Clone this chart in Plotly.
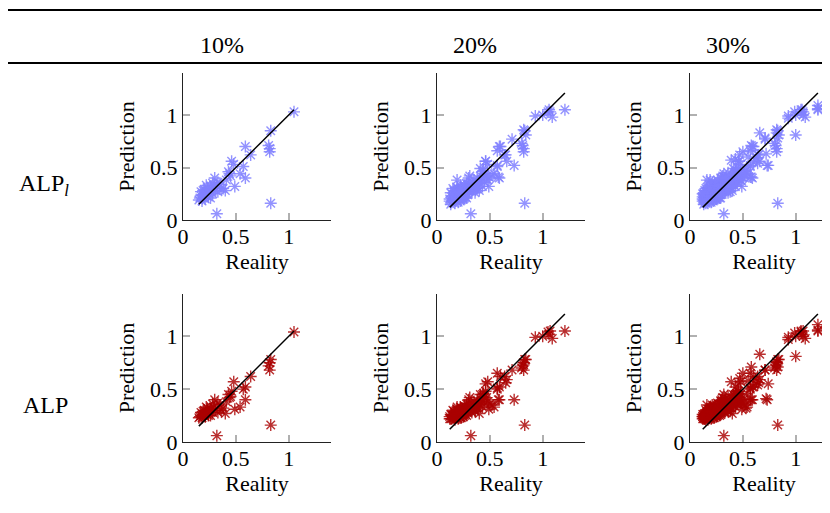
import plotly.graph_objects as go

# ---------------- data ----------------
column_labels = ["10%", "20%", "30%"]
row_labels = ["ALP<sub><i>l</i></sub>", "ALP"]
tick_vals = [0, 0.5, 1]
tick_text = ["0", "0.5", "1"]

# base points (10%)
reality_10 = [1.05, 0.83, 0.59, 0.81, 0.82, 0.82, 0.64, 0.83, 0.32, 0.57,
              0.59, 0.49, 0.48, 0.46, 0.43, 0.45, 0.41, 0.40, 0.54, 0.44,
              0.36, 0.33, 0.30, 0.29, 0.28, 0.27, 0.25, 0.24, 0.23, 0.22,
              0.21, 0.20, 0.19, 0.18, 0.17, 0.16, 0.15, 0.26, 0.31, 0.35,
              0.38, 0.22, 0.19, 0.24, 0.28, 0.33, 0.20, 0.26, 0.21, 0.17]
pred_alpl_10 = [1.03, 0.85, 0.70, 0.71, 0.68, 0.65, 0.62, 0.16, 0.06, 0.51,
                0.40, 0.32, 0.53, 0.56, 0.46, 0.42, 0.38, 0.28, 0.44, 0.44,
                0.30, 0.36, 0.40, 0.33, 0.25, 0.30, 0.28, 0.22, 0.31, 0.26,
                0.20, 0.29, 0.24, 0.18, 0.27, 0.21, 0.19, 0.21, 0.28, 0.34,
                0.30, 0.33, 0.28, 0.26, 0.35, 0.27, 0.22, 0.32, 0.24, 0.23]
pred_alp_10 = [1.04, 0.78, 0.52, 0.72, 0.68, 0.75, 0.62, 0.16, 0.06, 0.50,
               0.40, 0.31, 0.57, 0.48, 0.45, 0.43, 0.38, 0.27, 0.33, 0.42,
               0.30, 0.37, 0.40, 0.33, 0.28, 0.31, 0.29, 0.25, 0.32, 0.27,
               0.24, 0.30, 0.26, 0.23, 0.28, 0.24, 0.23, 0.25, 0.30, 0.35,
               0.32, 0.33, 0.29, 0.27, 0.36, 0.28, 0.25, 0.31, 0.26, 0.25]

# additional points appearing at 20%
reality_20_extra = [1.21, 1.07, 1.09, 1.06, 0.93, 1.00, 0.82, 0.84, 0.71, 0.80,
                    0.60, 0.57, 0.65, 0.66, 0.73, 0.57, 0.58, 0.52, 0.46, 0.41,
                    0.19, 0.12, 0.13, 0.14, 0.15, 0.13, 0.16, 0.17, 0.18, 0.20,
                    0.21, 0.22, 0.23, 0.24, 0.25, 0.26, 0.27, 0.28, 0.29, 0.30,
                    0.31, 0.32, 0.34, 0.35, 0.36, 0.37, 0.38, 0.39, 0.40, 0.42,
                    0.43, 0.44, 0.45, 0.47, 0.48, 0.50, 0.14, 0.16, 0.18, 0.19,
                    0.21, 0.23, 0.24, 0.26, 0.28, 0.12, 0.15, 0.17, 0.20, 0.22]
pred_alpl_20_extra = [1.05, 1.03, 0.98, 1.05, 0.99, 1.00, 0.86, 0.81, 0.77, 0.73,
                      0.70, 0.66, 0.62, 0.56, 0.52, 0.52, 0.41, 0.43, 0.56, 0.49,
                      0.38, 0.20, 0.26, 0.17, 0.23, 0.15, 0.28, 0.16, 0.21, 0.17,
                      0.27, 0.18, 0.24, 0.30, 0.20, 0.25, 0.22, 0.29, 0.24, 0.34,
                      0.42, 0.30, 0.29, 0.38, 0.26, 0.33, 0.40, 0.31, 0.35, 0.39,
                      0.32, 0.47, 0.36, 0.42, 0.38, 0.40, 0.22, 0.19, 0.25, 0.31,
                      0.22, 0.19, 0.27, 0.33, 0.21, 0.18, 0.30, 0.24, 0.26, 0.29]
pred_alp_20_extra = [1.05, 1.05, 0.98, 1.02, 0.99, 1.00, 0.73, 0.78, 0.68, 0.70,
                     0.62, 0.65, 0.56, 0.59, 0.40, 0.51, 0.40, 0.35, 0.55, 0.45,
                     0.33, 0.24, 0.26, 0.22, 0.25, 0.22, 0.29, 0.21, 0.24, 0.22,
                     0.29, 0.23, 0.27, 0.32, 0.24, 0.28, 0.26, 0.31, 0.28, 0.36,
                     0.42, 0.32, 0.31, 0.38, 0.29, 0.34, 0.39, 0.33, 0.36, 0.40,
                     0.33, 0.46, 0.37, 0.42, 0.38, 0.36, 0.25, 0.23, 0.27, 0.31,
                     0.25, 0.23, 0.28, 0.34, 0.25, 0.22, 0.30, 0.26, 0.27, 0.30]

# additional points appearing at 30%
reality_30_extra = [1.21, 1.21, 1.05, 1.07, 0.99, 0.93, 1.00, 0.66, 0.71, 0.82,
                    0.83, 0.72, 0.74, 0.58, 0.50, 0.39, 0.63, 0.64, 0.57, 0.53,
                    0.16, 0.55, 0.60, 0.47, 0.43, 0.45, 0.36, 0.32, 0.12, 0.13,
                    0.14, 0.15, 0.16, 0.17, 0.18, 0.19, 0.20, 0.21, 0.22, 0.23,
                    0.24, 0.25, 0.26, 0.27, 0.28, 0.29, 0.30, 0.31, 0.33, 0.34,
                    0.35, 0.37, 0.38, 0.40, 0.41, 0.42, 0.44, 0.46, 0.48, 0.49,
                    0.51, 0.54, 0.13, 0.14, 0.15, 0.16, 0.17, 0.18, 0.19, 0.20,
                    0.21, 0.22, 0.23, 0.24, 0.25, 0.26, 0.27, 0.28, 0.29, 0.30,
                    0.32, 0.33, 0.35, 0.36, 0.38, 0.40, 0.43, 0.46, 0.14, 0.12]
pred_alpl_30_extra = [1.09, 1.06, 1.05, 1.00, 1.03, 0.97, 0.81, 0.83, 0.78, 0.83,
                      0.78, 0.63, 0.52, 0.71, 0.65, 0.57, 0.59, 0.54, 0.41, 0.47,
                      0.38, 0.60, 0.55, 0.62, 0.58, 0.50, 0.45, 0.44, 0.22, 0.19,
                      0.28, 0.16, 0.24, 0.31, 0.19, 0.27, 0.33, 0.19, 0.25, 0.35,
                      0.20, 0.31, 0.23, 0.36, 0.27, 0.21, 0.29, 0.35, 0.31, 0.39,
                      0.28, 0.36, 0.27, 0.42, 0.33, 0.45, 0.36, 0.41, 0.46, 0.37,
                      0.43, 0.48, 0.24, 0.21, 0.27, 0.20, 0.26, 0.33, 0.22, 0.29,
                      0.36, 0.22, 0.28, 0.33, 0.25, 0.38, 0.30, 0.24, 0.40, 0.26,
                      0.34, 0.40, 0.32, 0.38, 0.33, 0.37, 0.40, 0.44, 0.18, 0.25]
pred_alp_30_extra = [1.11, 1.06, 1.05, 1.00, 1.03, 0.97, 0.81, 0.83, 0.68, 0.76,
                     0.71, 0.41, 0.55, 0.71, 0.65, 0.57, 0.57, 0.54, 0.40, 0.32,
                     0.35, 0.58, 0.52, 0.60, 0.52, 0.48, 0.44, 0.45, 0.24, 0.23,
                     0.27, 0.21, 0.25, 0.31, 0.23, 0.28, 0.32, 0.24, 0.27, 0.34,
                     0.25, 0.31, 0.27, 0.36, 0.29, 0.26, 0.30, 0.34, 0.32, 0.38,
                     0.30, 0.36, 0.29, 0.41, 0.34, 0.44, 0.36, 0.40, 0.45, 0.37,
                     0.41, 0.46, 0.25, 0.24, 0.27, 0.23, 0.27, 0.31, 0.25, 0.29,
                     0.35, 0.25, 0.29, 0.33, 0.27, 0.37, 0.31, 0.27, 0.39, 0.28,
                     0.34, 0.40, 0.33, 0.38, 0.34, 0.37, 0.40, 0.43, 0.22, 0.26]

# ---------------- assemble per panel ----------------
reality_cols = [reality_10,
                reality_10 + reality_20_extra,
                reality_10 + reality_20_extra + reality_30_extra]
pred_rows = [
    [pred_alpl_10,
     pred_alpl_10 + pred_alpl_20_extra,
     pred_alpl_10 + pred_alpl_20_extra + pred_alpl_30_extra],
    [pred_alp_10,
     pred_alp_10 + pred_alp_20_extra,
     pred_alp_10 + pred_alp_20_extra + pred_alp_30_extra],
]
row_colors = ["rgba(128,128,255,0.85)", "rgba(170,0,0,0.82)"]

W, H = 830, 513
OFF = 8  # page body margin offset


def px(v):
    return (v - OFF) / W


def py(v):
    return 1 - (v - OFF) / H


col_px = [(183, 331), (437, 585), (690, 838)]
row_px = [(73, 220), (294, 442)]

FONT = "Liberation Serif, DejaVu Serif, serif"
TICK_SIZE = 22
TABLE_SIZE = 24
fig = go.Figure()
layout_axes = {}

for r in range(2):
    for c in range(3):
        idx = r * 3 + c + 1
        xa = "x" if idx == 1 else f"x{idx}"
        ya = "y" if idx == 1 else f"y{idx}"
        xs = reality_cols[c]
        ys = pred_rows[r][c]
        fig.add_trace(go.Scatter(
            x=xs, y=ys, mode="markers", xaxis=xa, yaxis=ya,
            marker=dict(symbol="asterisk-open", size=10, color=row_colors[r],
                        line=dict(color=row_colors[r], width=1.4)),
            showlegend=False, hoverinfo="x+y"))
        lo, hi = min(xs), max(xs)
        fig.add_trace(go.Scatter(
            x=[lo, hi], y=[lo, hi], mode="lines", xaxis=xa, yaxis=ya,
            line=dict(color="black", width=1.5),
            showlegend=False, hoverinfo="skip"))
        x0, x1 = col_px[c]
        y0, y1 = row_px[r]
        common = dict(
            showline=True, linecolor="#222", linewidth=1.3,
            ticks="inside", ticklen=7, tickwidth=1.5, tickcolor="#b0b0b0",
            tickvals=tick_vals, ticktext=tick_text, showgrid=False,
            zeroline=False, automargin=False,
            tickfont=dict(family=FONT, size=TICK_SIZE, color="black"),
        )
        layout_axes["xaxis" if idx == 1 else f"xaxis{idx}"] = dict(
            domain=[px(x0), px(x1)], range=[0, 1.4],
            anchor=ya, ticklabelstandoff=-4,
            title=dict(text="Reality", font=dict(family=FONT, size=TICK_SIZE, color="black"),
                       standoff=5),
            **common)
        layout_axes["yaxis" if idx == 1 else f"yaxis{idx}"] = dict(
            domain=[py(y1), py(y0)], range=[0, 1.4],
            anchor=xa,
            title=dict(text="Prediction", font=dict(family=FONT, size=TICK_SIZE, color="black"),
                       standoff=9),
            **common)

annotations = []
for label, xc in zip(column_labels, [222, 475, 728]):
    annotations.append(dict(text=label, x=px(xc), y=py(45), xref="paper", yref="paper",
                            xanchor="center", yanchor="middle", showarrow=False,
                            font=dict(family=FONT, size=TABLE_SIZE, color="black")))
for label, (xc, yc) in zip(row_labels, [(44, 185), (45, 405)]):
    annotations.append(dict(text=label, x=px(xc), y=py(yc), xref="paper", yref="paper",
                            xanchor="center", yanchor="middle", showarrow=False,
                            font=dict(family=FONT, size=TABLE_SIZE, color="black")))

shapes = [
    dict(type="line", xref="paper", yref="paper", x0=px(8), x1=px(840), y0=py(10), y1=py(10),
         line=dict(color="black", width=2)),
    dict(type="line", xref="paper", yref="paper", x0=px(8), x1=px(840), y0=py(63), y1=py(63),
         line=dict(color="black", width=2)),
]

fig.update_layout(
    width=W, height=H, margin=dict(l=0, r=0, t=0, b=0, autoexpand=False),
    paper_bgcolor="white", plot_bgcolor="white",
    annotations=annotations, shapes=shapes,
    font=dict(family=FONT, size=TICK_SIZE, color="black"),
    **layout_axes)

fig.write_html("out.html")
